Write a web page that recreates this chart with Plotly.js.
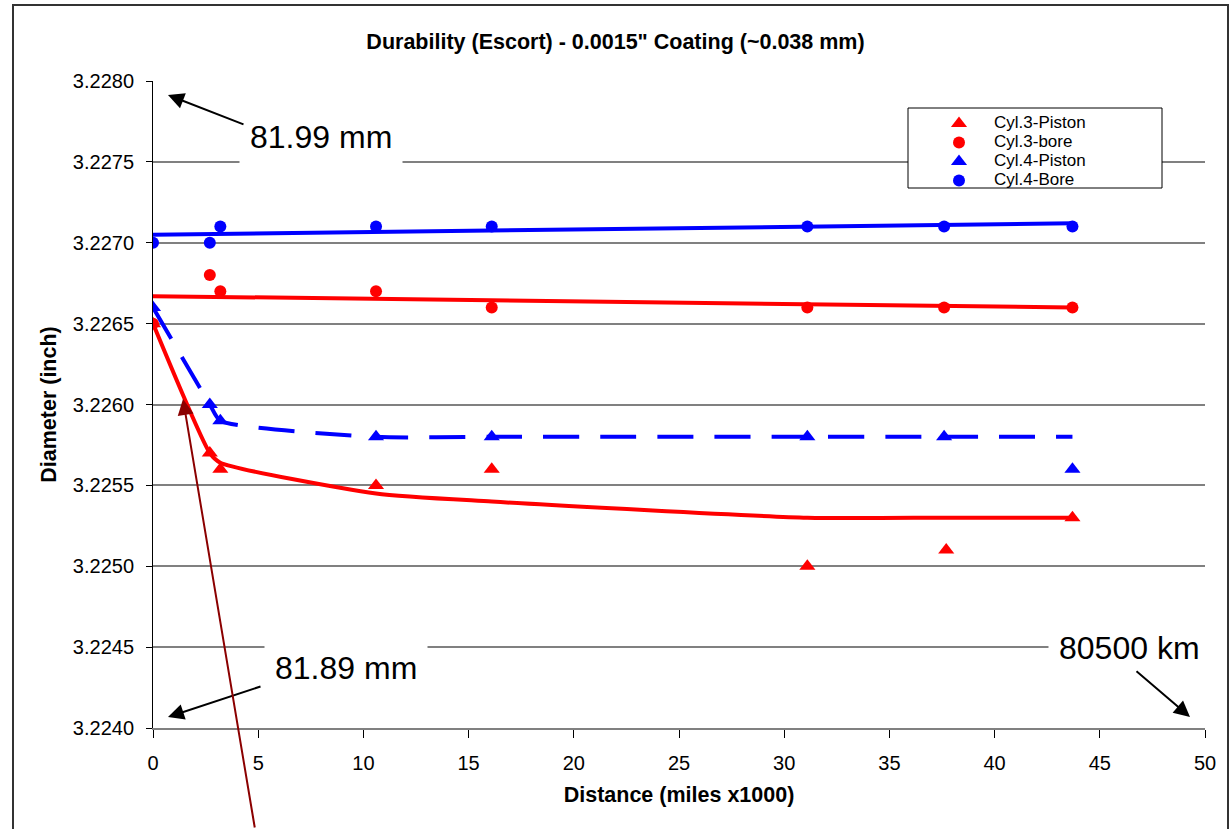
<!DOCTYPE html>
<html>
<head>
<meta charset="utf-8">
<script src="https://cdn.plot.ly/plotly-3.0.1.min.js"></script>
<style>
  html, body { margin: 0; padding: 0; background: #fff; }
  #chart { width: 1231px; height: 829px; }
</style>
</head>
<body>
<div id="chart"></div>
<script>
// ---- Data (distance in miles x1000, diameter in inch) ----
const cyl3PistonX = [0, 2.7, 3.2, 10.6, 16.1, 31.1, 37.7, 43.7];
const cyl3PistonY = [3.2265, 3.2257, 3.2256, 3.2255, 3.2256, 3.2250, 3.2251, 3.2253];

const cyl3BoreX = [0, 2.7, 3.2, 10.6, 16.1, 31.1, 37.6, 43.7];
const cyl3BoreY = [3.2265, 3.2268, 3.2267, 3.2267, 3.2266, 3.2266, 3.2266, 3.2266];

const cyl4PistonX = [0, 2.7, 3.2, 10.6, 16.1, 31.1, 37.6, 43.7];
const cyl4PistonY = [3.2266, 3.2260, 3.2259, 3.2258, 3.2258, 3.2258, 3.2258, 3.2256];

const cyl4BoreX = [0, 2.7, 3.2, 10.6, 16.1, 31.1, 37.6, 43.7];
const cyl4BoreY = [3.2270, 3.2270, 3.2271, 3.2271, 3.2271, 3.2271, 3.2271, 3.2271];

// smoothed curves
const cyl3CurveX = [0, 2.7, 3.2, 10.6, 16.1, 31.1, 37.7, 43.7];
const cyl3CurveY = [3.2265, 3.2257, 3.22564, 3.22545, 3.2254, 3.2253, 3.2253, 3.2253];
const cyl4CurveX = [0, 2.7, 3.2, 10.6, 16.1, 31.1, 37.6, 43.7];
const cyl4CurveY = [3.2266, 3.2260, 3.2259, 3.2258, 3.2258, 3.2258, 3.2258, 3.2258];

// linear trend lines for bores
const cyl3BoreTrendX = [0, 43.7];
const cyl3BoreTrendY = [3.22667, 3.22660];
const cyl4BoreTrendX = [0, 43.7];
const cyl4BoreTrendY = [3.22705, 3.22712];

const yTicks = [3.2240, 3.2245, 3.2250, 3.2255, 3.2260, 3.2265, 3.2270, 3.2275, 3.2280];
const yTickText = ['3.2240', '3.2245', '3.2250', '3.2255', '3.2260', '3.2265', '3.2270', '3.2275', '3.2280'];

const FONT = 'Liberation Sans, Arial, sans-serif';
const RED = '#FF0000', BLUE = '#0000FF';
const lg = s => '<span style="font-size:17px">' + s + '</span>';

const traces = [
  { x: cyl3CurveX, y: cyl3CurveY, mode: 'lines', line: { color: RED, width: 4, shape: 'spline', smoothing: 0.6 }, showlegend: false, hoverinfo: 'skip' },
  { x: cyl4CurveX, y: cyl4CurveY, mode: 'lines', line: { color: BLUE, width: 4, shape: 'spline', smoothing: 0.6, dash: '36px,21px' }, showlegend: false, hoverinfo: 'skip' },
  { x: cyl3BoreTrendX, y: cyl3BoreTrendY, mode: 'lines', line: { color: RED, width: 4 }, showlegend: false, hoverinfo: 'skip' },
  { x: cyl4BoreTrendX, y: cyl4BoreTrendY, mode: 'lines', line: { color: BLUE, width: 4 }, showlegend: false, hoverinfo: 'skip' },
  { x: cyl3PistonX, y: cyl3PistonY, mode: 'markers', name: lg('Cyl.3-Piston'), marker: { symbol: 'triangle-up', color: RED, size: 14 } },
  { x: cyl3BoreX, y: cyl3BoreY, mode: 'markers', name: lg('Cyl.3-bore'), marker: { symbol: 'circle', color: RED, size: 12 } },
  { x: cyl4PistonX, y: cyl4PistonY, mode: 'markers', name: lg('Cyl.4-Piston'), marker: { symbol: 'triangle-up', color: BLUE, size: 14 } },
  { x: cyl4BoreX, y: cyl4BoreY, mode: 'markers', name: lg('Cyl.4-Bore'), marker: { symbol: 'circle', color: BLUE, size: 12 } }
];

const W = 1231, H = 829, L = 153, R = 26, T = 81, B = 101;
const pw = W - L - R, ph = H - T - B;
const px = v => (v - L) / pw;
const py = v => (H - B - v) / ph;

const layout = {
  width: W, height: H,
  margin: { l: L, r: R, t: T, b: B, pad: 0 },
  paper_bgcolor: '#fff', plot_bgcolor: '#fff',
  font: { family: FONT, size: 20, color: '#000' },
  title: { text: '<b>Durability (Escort) - 0.0015" Coating (~0.038 mm)</b>', font: { family: FONT, size: 21.5, color: '#000' }, x: 0.5, xanchor: 'center', y: 1 - 41 / H, yanchor: 'middle' },
  xaxis: {
    range: [0, 50], dtick: 5, tick0: 0,
    showgrid: false, zeroline: false,
    showline: true, linecolor: '#808080', linewidth: 2,
    ticks: 'outside', ticklen: 8, tickcolor: '#000', tickwidth: 1,
    ticklabelstandoff: 8,
    tickfont: { family: FONT, size: 20 },
    title: { text: '<b>Distance (miles x1000)</b>', font: { family: FONT, size: 21.5 }, standoff: 14 }
  },
  yaxis: {
    range: [3.2240, 3.2280],
    tickvals: yTicks, ticktext: yTickText,
    showgrid: true, gridcolor: '#808080', gridwidth: 2,
    zeroline: false,
    showline: true, linecolor: '#000', linewidth: 1,
    ticks: 'outside', ticklen: 6, tickcolor: '#000', tickwidth: 1,
    ticklabelstandoff: 8,
    tickfont: { family: FONT, size: 20 },
    title: { text: '<b>Diameter (inch)</b>', font: { family: FONT, size: 21.5 }, standoff: 10 }
  },
  legend: {
    x: px(924), y: py(109), xanchor: 'left', yanchor: 'top',
    bgcolor: 'rgba(255,255,255,0)', borderwidth: 0,
    font: { family: FONT, size: 12, color: '#000' },
    itemwidth: 60, tracegroupgap: 0
  },
  shapes: [
    { type: 'rect', xref: 'paper', yref: 'paper', x0: px(908), x1: px(1162), y0: py(188), y1: py(108), fillcolor: '#fff', line: { color: '#000', width: 1 }, layer: 'above' },
    { type: 'rect', xref: 'paper', yref: 'paper', x0: px(13), x1: px(1228), y0: py(840), y1: py(5), fillcolor: 'rgba(0,0,0,0)', line: { color: '#333', width: 2 }, layer: 'above' }
  ],
  annotations: [
    { xref: 'paper', yref: 'paper', x: px(321), y: py(137), text: '81.99 mm', showarrow: false, font: { family: FONT, size: 32, color: '#000' }, bgcolor: '#fff', borderpad: 10, xanchor: 'center', yanchor: 'middle' },
    { xref: 'paper', yref: 'paper', x: px(346), y: py(668), text: '81.89 mm', showarrow: false, font: { family: FONT, size: 32, color: '#000' }, bgcolor: '#fff', borderpad: 10, xanchor: 'center', yanchor: 'middle' },
    { xref: 'paper', yref: 'paper', x: px(1129), y: py(648), text: '80500 km', showarrow: false, font: { family: FONT, size: 32, color: '#000' }, bgcolor: '#fff', borderpad: 10, xanchor: 'center', yanchor: 'middle' },
    { xref: 'paper', yref: 'paper', x: px(168), y: py(95), text: '', showarrow: true, ax: 77, ay: 30, arrowhead: 2, arrowsize: 1.6, arrowwidth: 2, arrowcolor: '#000' },
    { xref: 'paper', yref: 'paper', x: px(168), y: py(717), text: '', showarrow: true, ax: 94, ay: -31, arrowhead: 2, arrowsize: 1.6, arrowwidth: 2, arrowcolor: '#000' },
    { xref: 'paper', yref: 'paper', x: px(1190), y: py(717), text: '', showarrow: true, ax: -55, ay: -47, arrowhead: 2, arrowsize: 1.6, arrowwidth: 2, arrowcolor: '#000' },
    { xref: 'paper', yref: 'paper', x: px(183), y: py(399), text: '', showarrow: true, ax: 72, ay: 445, arrowhead: 2, arrowsize: 1.6, arrowwidth: 2, arrowcolor: '#8B0000' }
  ]
};

Plotly.newPlot('chart', traces, layout, { displayModeBar: false, staticPlot: true });
</script>
</body>
</html>
